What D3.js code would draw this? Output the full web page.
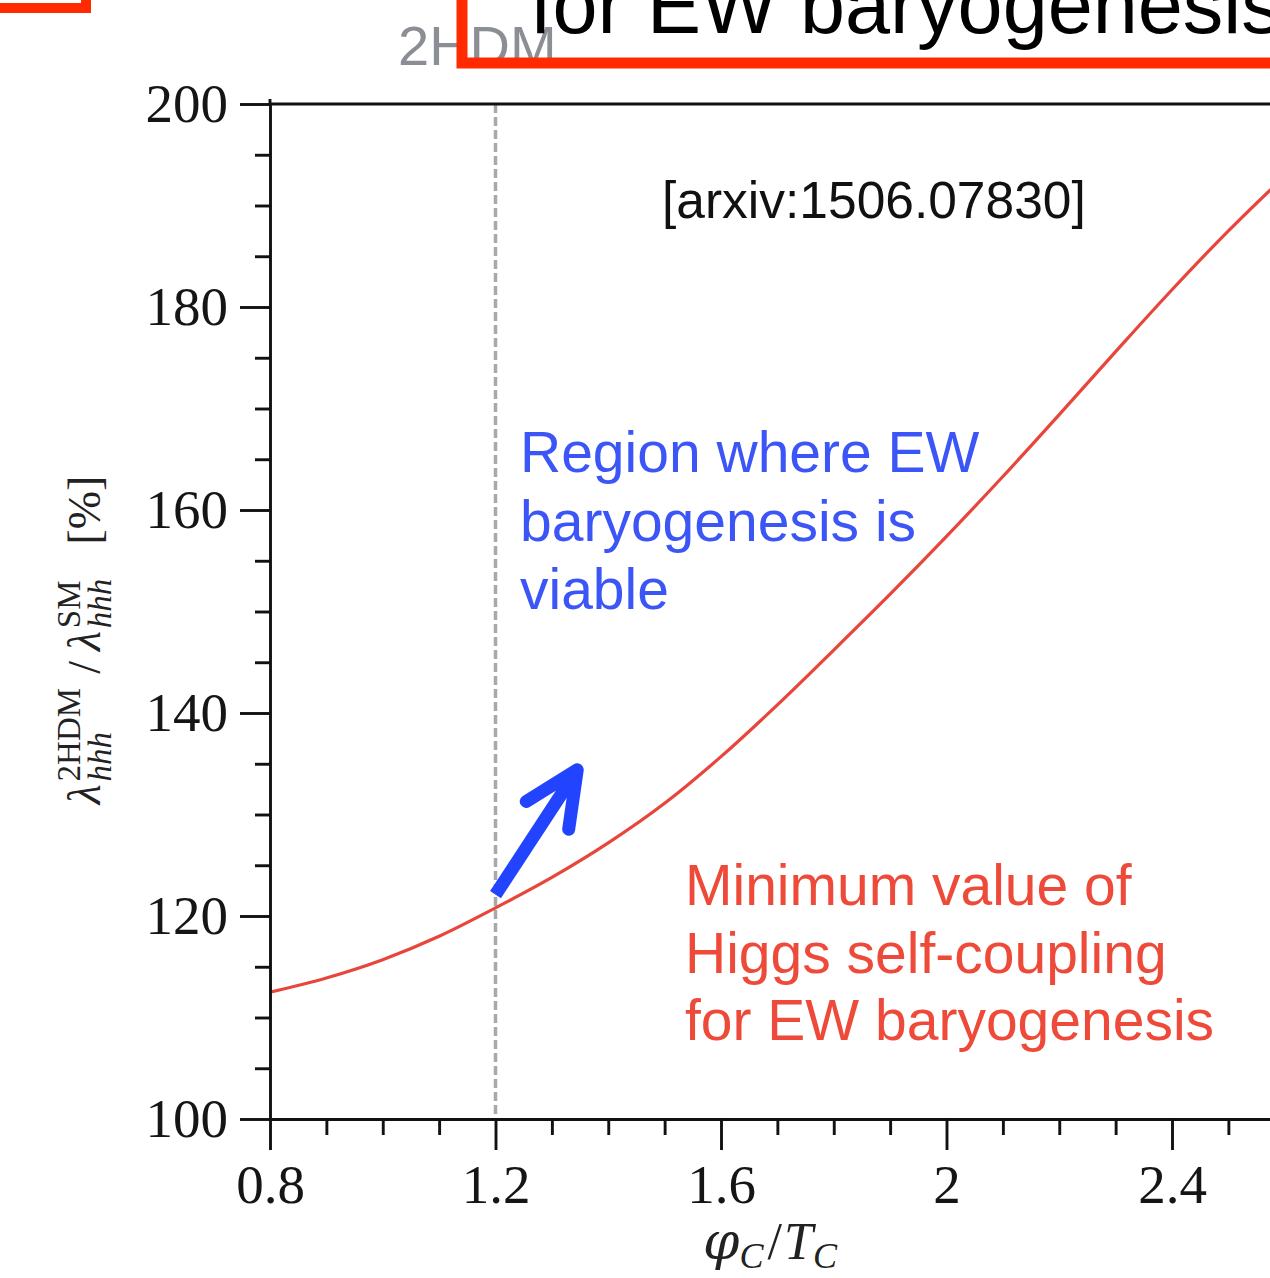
<!DOCTYPE html>
<html>
<head>
<meta charset="utf-8">
<script src="https://cdn.jsdelivr.net/npm/d3@7"></script>
<style>
  html, body { margin: 0; padding: 0; background: #fff; }
  svg { display: block; }
</style>
</head>
<body>
<svg id="chart" width="1270" height="1278"></svg>
<script>
// phi_C / T_C sampling points and the minimum trilinear Higgs coupling ratio (%)
const phiOverT = [0.8, 0.9, 1.0, 1.1, 1.2, 1.3, 1.4, 1.5, 1.6, 1.7, 1.8, 1.9, 2.0, 2.1, 2.2, 2.3, 2.4, 2.5, 2.6];
const lambdaRatio = [112.5, 113.9, 115.7, 118.0, 120.8, 123.8, 127.2, 131.1, 135.7, 140.8, 146.2, 151.7, 157.4, 163.3, 169.4, 175.6, 181.7, 187.5, 192.9];

// threshold for a strong first-order transition
const phiThreshold = 1.2;

// axis ticks
const xMajorTicks = [0.8, 1.2, 1.6, 2.0, 2.4];
const xTickLabels = ["0.8", "1.2", "1.6", "2", "2.4"];
const xMinorTicks = [0.9, 1.0, 1.1, 1.3, 1.4, 1.5, 1.7, 1.8, 1.9, 2.1, 2.2, 2.3, 2.5, 2.6, 2.7];
const yMajorTicks = [100, 120, 140, 160, 180, 200];
const yTickLabels = ["100", "120", "140", "160", "180", "200"];
const yMinorTicks = [105, 110, 115, 125, 130, 135, 145, 150, 155, 165, 170, 175, 185, 190, 195];

// annotation texts
const blueNote = ["Region where EW", "baryogenesis is", "viable"];
const redNote = ["Minimum value of", "Higgs self-coupling", "for EW baryogenesis"];
const reference = "[arxiv:1506.07830]";
const modelTag = "2HDM";
const headline = "for EW baryogenesis";

// arrow pointing into the viable region (data coordinates)
const arrowFrom = [1.2, 122.1];
const arrowTo = [1.345, 134.4];

const svg = d3.select("#chart");

const plot = { left: 270, top: 104, bottom: 1119 };
const x = d3.scaleLinear().domain([0.8, 2.8]).range([plot.left, plot.left + 2 * 563.75]);
const y = d3.scaleLinear().domain([100, 200]).range([plot.bottom, plot.top]);

const serif = "'Liberation Serif', 'Times New Roman', serif";
const sans = "'Liberation Sans', Helvetica, Arial, sans-serif";
const axisColor = "#111";
const axisWidth = 2.9;

// clip for the plot area
svg.append("defs").append("clipPath").attr("id", "plotClip")
  .append("rect")
  .attr("x", plot.left).attr("y", plot.top)
  .attr("width", x.range()[1] - plot.left).attr("height", plot.bottom - plot.top);

// dashed threshold line
svg.append("line")
  .attr("x1", x(phiThreshold)).attr("x2", x(phiThreshold))
  .attr("y1", y(200)).attr("y2", y(100))
  .attr("stroke", "#a9a9a9").attr("stroke-width", 3.5)
  .attr("stroke-dasharray", "9,4");

// curve
const points = phiOverT.map((v, i) => [v, lambdaRatio[i]]);
svg.append("path")
  .datum(points)
  .attr("clip-path", "url(#plotClip)")
  .attr("fill", "none")
  .attr("stroke", "#e8453b")
  .attr("stroke-width", 3.2)
  .attr("d", d3.line().x(d => x(d[0])).y(d => y(d[1])).curve(d3.curveMonotoneX));

// top frame line
svg.append("line")
  .attr("x1", plot.left).attr("x2", x.range()[1])
  .attr("y1", y(200)).attr("y2", y(200))
  .attr("stroke", axisColor).attr("stroke-width", axisWidth);

function styleAxis(g) {
  g.selectAll(".domain").attr("stroke", axisColor).attr("stroke-width", axisWidth);
  g.selectAll(".tick line").attr("stroke", axisColor).attr("stroke-width", axisWidth);
  g.selectAll(".tick text")
    .attr("fill", "#151515")
    .style("font-family", serif)
    .style("font-size", "55px");
}

// y axis
const yAxisG = svg.append("g").attr("transform", `translate(${plot.left},0)`);
yAxisG.append("g")
  .call(d3.axisLeft(y).tickValues(yMinorTicks).tickSize(15).tickFormat(""))
  .call(g => g.select(".domain").remove())
  .call(styleAxis);
yAxisG.append("g")
  .call(d3.axisLeft(y).tickValues(yMajorTicks).tickSize(30).tickSizeOuter(0).tickPadding(12)
    .tickFormat((d, i) => yTickLabels[i]))
  .call(styleAxis);

// x axis
const xAxisG = svg.append("g").attr("transform", `translate(0,${plot.bottom})`);
xAxisG.append("g")
  .call(d3.axisBottom(x).tickValues(xMinorTicks).tickSize(16).tickFormat(""))
  .call(g => g.select(".domain").remove())
  .call(styleAxis);
xAxisG.append("g")
  .call(d3.axisBottom(x).tickValues(xMajorTicks).tickSize(31).tickSizeOuter(0).tickPadding(14)
    .tickFormat((d, i) => xTickLabels[i]))
  .call(styleAxis);

// small overshoot of the y axis above the frame
svg.append("line")
  .attr("x1", plot.left).attr("x2", plot.left)
  .attr("y1", plot.top - 5).attr("y2", plot.top)
  .attr("stroke", axisColor).attr("stroke-width", axisWidth);

// y axis title: lambda_hhh^2HDM / lambda_hhh^SM [%]
(function () {
  const g = svg.append("g").attr("transform", "translate(100,640) rotate(-90)");
  const main = 46, script = 33;
  const pieces = [
    { t: "λ", size: main, italic: true, gapAfter: 3 },
    { sup: "2HDM", sub: "hhh", gapAfter: 14 },
    { t: "/", size: main, italic: false, gapAfter: 10 },
    { t: "λ", size: main, italic: true, gapAfter: 3 },
    { sup: "SM", sub: "hhh", gapAfter: 34 },
    { t: "[%]", size: main, italic: false, gapAfter: 0 }
  ];
  let u = 0;
  const made = [];
  pieces.forEach(p => {
    if (p.t) {
      const el = g.append("text").text(p.t)
        .attr("x", u).attr("y", 0)
        .style("font-family", serif).style("font-size", p.size + "px")
        .style("font-style", p.italic ? "italic" : "normal")
        .attr("fill", "#222");
      made.push(el);
      u += el.node().getComputedTextLength() + p.gapAfter;
    } else {
      const s1 = g.append("text").text(p.sup)
        .attr("x", u).attr("y", -20)
        .style("font-family", serif).style("font-size", script + "px")
        .attr("fill", "#222");
      const s2 = g.append("text").text(p.sub)
        .attr("x", u).attr("y", 11)
        .style("font-family", serif).style("font-size", script + "px")
        .style("font-style", "italic")
        .attr("fill", "#222");
      made.push(s1, s2);
      u += Math.max(s1.node().getComputedTextLength(), s2.node().getComputedTextLength()) + p.gapAfter;
    }
  });
  const shift = -u / 2;
  made.forEach(el => el.attr("x", +el.attr("x") + shift));
})();

// x axis title: phi_C / T_C
(function () {
  const g = svg.append("g");
  const main = 52, script = 36;
  const pieces = [
    { t: "φ", size: main, italic: true, dy: 0, gap: 0, font: "'DejaVu Serif', serif" },
    { t: "C", size: script, italic: true, dy: 9, gap: 4 },
    { t: "/", size: main, italic: false, dy: 0, gap: 2 },
    { t: "T", size: main, italic: true, dy: 0, gap: 0 },
    { t: "C", size: script, italic: true, dy: 9, gap: 0 }
  ];
  let u = 0;
  const made = [];
  pieces.forEach(p => {
    const el = g.append("text").text(p.t)
      .attr("x", u).attr("y", 1259 + p.dy)
      .style("font-family", p.font || serif).style("font-size", p.size + "px")
      .style("font-style", p.italic ? "italic" : "normal")
      .attr("fill", "#222");
    made.push(el);
    u += el.node().getComputedTextLength() + p.gap;
  });
  const shift = 770 - u / 2;
  made.forEach(el => el.attr("x", +el.attr("x") + shift));
})();

// reference tag
svg.append("text").text(reference)
  .attr("x", 662).attr("y", 218)
  .style("font-family", sans).style("font-size", "51.5px")
  .attr("fill", "#111");

// blue annotation
const blueText = svg.append("text")
  .style("font-family", sans).style("font-size", "57px")
  .attr("fill", "#3b55f6");
blueNote.forEach((line, i) => {
  blueText.append("tspan").attr("x", 520).attr("y", 472 + i * 68.5).text(line);
});

// red annotation
const redText = svg.append("text")
  .style("font-family", sans).style("font-size", "57px")
  .attr("fill", "#ee4a3a");
redNote.forEach((line, i) => {
  redText.append("tspan").attr("x", 685).attr("y", 905 + i * 67.5).text(line);
});

// arrow into the viable region
(function () {
  const x0 = x(arrowFrom[0]), y0 = y(arrowFrom[1]);
  const x1 = x(arrowTo[0]), y1 = y(arrowTo[1]);
  const ang = Math.atan2(y0 - y1, x0 - x1);
  const len = 60, spread = 25 * Math.PI / 180;
  const e1 = [x1 + len * Math.cos(ang + spread), y1 + len * Math.sin(ang + spread)];
  const e2 = [x1 + len * Math.cos(ang - spread), y1 + len * Math.sin(ang - spread)];
  const blue = "#2244ff";
  svg.append("line")
    .attr("x1", x0).attr("y1", y0).attr("x2", x1).attr("y2", y1)
    .attr("stroke", blue).attr("stroke-width", 13).attr("stroke-linecap", "butt");
  svg.append("path")
    .attr("d", `M${e1[0]},${e1[1]}L${x1},${y1}L${e2[0]},${e2[1]}`)
    .attr("fill", "none").attr("stroke", blue).attr("stroke-width", 13)
    .attr("stroke-linecap", "round").attr("stroke-linejoin", "round");
})();

// slide header: model tag and highlighted box
svg.append("text").text(modelTag)
  .attr("x", 398).attr("y", 65)
  .style("font-family", sans).style("font-size", "56px")
  .attr("fill", "#8b8f95");

svg.append("text").text(headline)
  .attr("x", 530).attr("y", 33)
  .style("font-family", sans).style("font-size", "81px")
  .attr("fill", "#000");

svg.append("rect")
  .attr("x", 462).attr("y", -60).attr("width", 1000).attr("height", 123)
  .attr("fill", "none").attr("stroke", "#ff2a00").attr("stroke-width", 11);

svg.append("rect")
  .attr("x", -60).attr("y", -60).attr("width", 146).attr("height", 68)
  .attr("fill", "none").attr("stroke", "#ff2a00").attr("stroke-width", 10);
</script>
</body>
</html>
